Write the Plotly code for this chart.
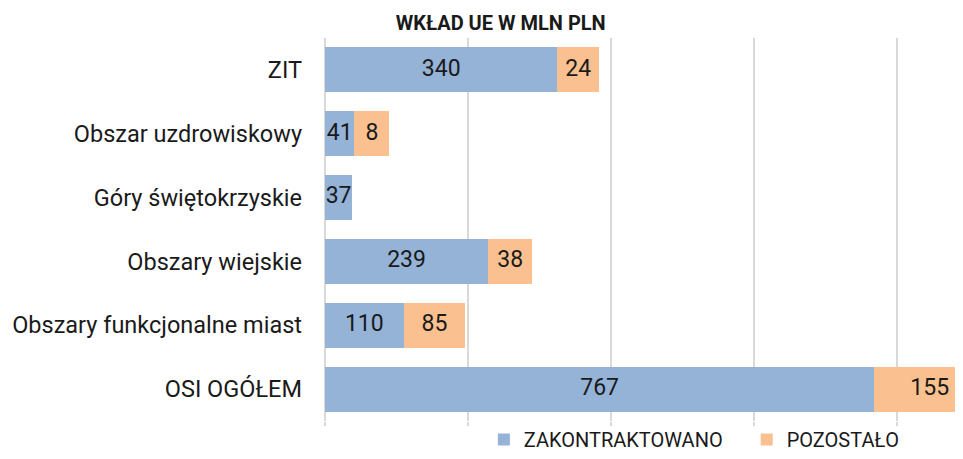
import plotly.graph_objects as go

# kategorie od góry do dołu
categories = ["ZIT", "Obszar uzdrowiskowy", "Góry świętokrzyskie",
              "Obszary wiejskie", "Obszary funkcjonalne miast", "OSI OGÓŁEM"]
# wartości podpisane na słupkach (mln PLN)
zakontraktowano = [340, 41, 37, 239, 110, 767]
pozostalo = [24, 8, 0, 38, 85, 155]
# długości słupków (nie zawsze zgodne z podpisami)
bar_zakontraktowano = [325, 41, 38, 228, 110, 768]
bar_pozostalo = [58, 49, 0, 62, 86, 155]
tick_vals = [0, 200, 400, 600, 800]

BLUE = "#95b3d7"
ORANGE = "#fac090"
TEXT = "#1a1a1a"
FONT = "Roboto"

fig = go.Figure()
fig.add_trace(go.Bar(
    y=categories, x=bar_zakontraktowano, name="ZAKONTRAKTOWANO",
    orientation="h", marker=dict(color=BLUE, line=dict(width=0)),
    hoverinfo="skip", legend="legend",
))
fig.add_trace(go.Bar(
    y=categories, x=bar_pozostalo, name="POZOSTAŁO",
    orientation="h", marker=dict(color=ORANGE, line=dict(width=0)),
    hoverinfo="skip", legend="legend2",
))

# podpisy wartości na środku każdego segmentu
mid_blue = [b / 2 for b in bar_zakontraktowano]
mid_orange = [b + o / 2 for b, o in zip(bar_zakontraktowano, bar_pozostalo)]
fig.add_trace(go.Scatter(
    y=categories, x=mid_blue, text=[str(v) for v in zakontraktowano],
    mode="text", textfont=dict(family=FONT, size=23, color=TEXT),
    showlegend=False, cliponaxis=False, hoverinfo="skip",
))
fig.add_trace(go.Scatter(
    y=categories, x=mid_orange, text=[str(v) if v else "" for v in pozostalo],
    mode="text", textfont=dict(family=FONT, size=23, color=TEXT),
    showlegend=False, cliponaxis=False, hoverinfo="skip",
))

legend_style = dict(orientation="h", y=-0.099, yanchor="bottom", xanchor="left",
                    font=dict(family=FONT, size=20, color=TEXT), itemwidth=30,
                    bgcolor="rgba(0,0,0,0)")

# strona ma 8px marginesu body, stąd 955x451
fig.update_layout(
    width=955, height=451,
    barmode="stack", bargap=0.296,
    plot_bgcolor="white", paper_bgcolor="white",
    margin=dict(l=317, r=0, t=30, b=38, autoexpand=False),
    font=dict(family=FONT, size=23.5, color=TEXT),
    title=dict(text="<b>WKŁAD UE W MLN PLN</b>", x=0.516, xanchor="center",
               y=0.966, yanchor="middle", font=dict(family=FONT, size=20, color=TEXT)),
    legend=dict(x=0.249, **legend_style),
    legend2=dict(x=0.661, **legend_style),
    showlegend=True,
    xaxis=dict(range=[0, 892], tickvals=tick_vals, showticklabels=False,
               showgrid=True, gridcolor="#d9d9d9", gridwidth=2,
               zeroline=True, zerolinecolor="#d9d9d9", zerolinewidth=2,
               ticks="outside", ticklen=4, tickcolor="#d9d9d9", tickwidth=2,
               fixedrange=True),
    yaxis=dict(autorange="reversed", ticks="", ticklabelstandoff=22,
               showgrid=False, fixedrange=True, automargin=False),
)

fig.write_html("out.html")
